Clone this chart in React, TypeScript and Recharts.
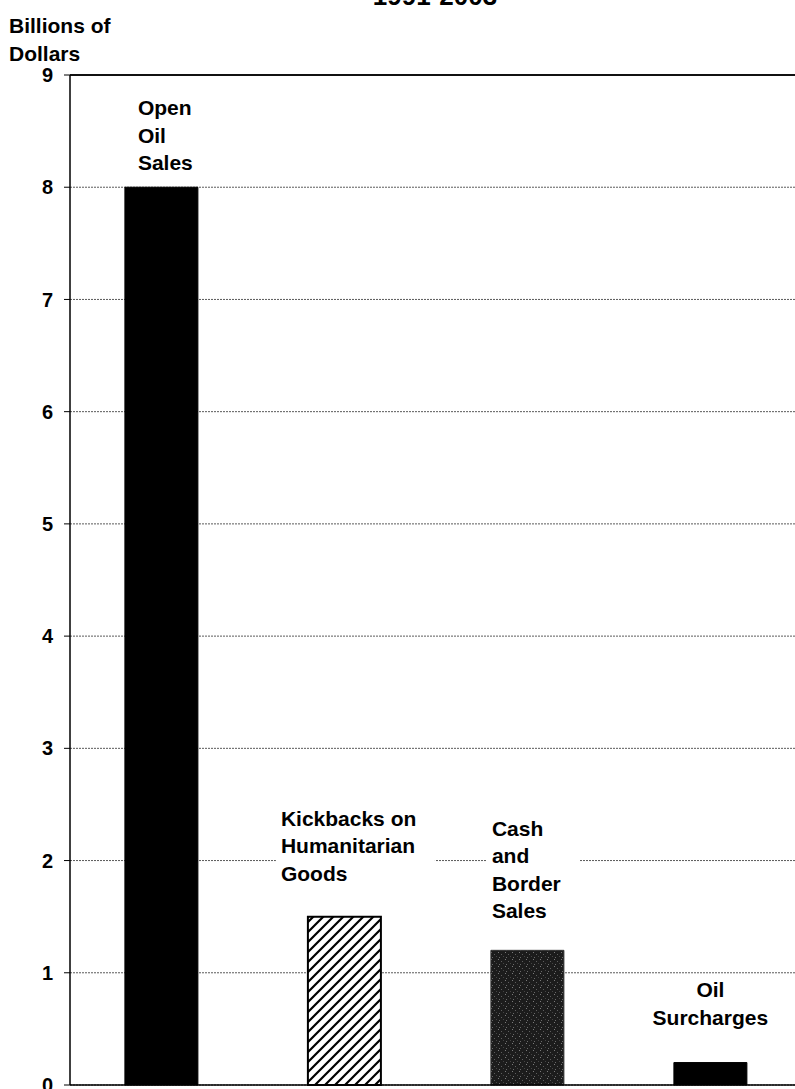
import React from 'react';
import {
  BarChart,
  Bar,
  Cell,
  XAxis,
  YAxis,
  CartesianGrid,
  ReferenceLine,
  LabelList
} from 'recharts';

// categories and values (billions of dollars)
const CATEGORIES = ['Open Oil Sales', 'Kickbacks on Humanitarian Goods', 'Cash and Border Sales', 'Oil Surcharges'];
const VALUES = [8.0, 1.5, 1.2, 0.2];
const LABEL_LINES = [
  ['Open', 'Oil', 'Sales'],
  ['Kickbacks on', 'Humanitarian', 'Goods'],
  ['Cash', 'and', 'Border', 'Sales'],
  ['Oil', 'Surcharges']
];
const Y_TICKS = [0, 1, 2, 3, 4, 5, 6, 7, 8, 9];
const TITLE = '1991-2003';
const Y_LABEL = ['Billions of', 'Dollars'];

// fill per bar
const FILLS = ['#000', 'url(#hatch)', 'url(#stipple)', '#000'];

// label placement relative to each bar (dx from bar left, gap above top)
const LABEL_LAYOUT = [
  { dx: 13, gap: 17, anchor: 'start', boxW: 70 },
  { dx: -27, gap: 36, anchor: 'start', boxW: 154 },
  { dx: 1, gap: 32, anchor: 'start', boxW: 88 },
  { dx: 0, gap: 38, anchor: 'middle', boxW: 0 }
];

const FONT = '"Liberation Sans", Arial, Helvetica, sans-serif';
const LINE_H = 27.5;

const data = CATEGORIES.map((name, i) => ({ name, value: VALUES[i] }));

const BarLabel = (props: any) => {
  const vb = props.viewBox || props;
  const idx = CATEGORIES.indexOf(props.value);
  if (idx < 0) return null;
  const lines = LABEL_LINES[idx];
  const lay = LABEL_LAYOUT[idx];
  const top = vb.y;
  const lastBase = top - lay.gap;
  const firstBase = lastBase - (lines.length - 1) * LINE_H;
  const tx = lay.anchor === 'middle' ? vb.x + vb.width / 2 : vb.x + lay.dx;
  return (
    <g>
      {lay.boxW > 0 && (
        <rect
          x={tx - 5}
          y={firstBase - 22}
          width={lay.boxW + 5}
          height={lastBase - firstBase + 30}
          fill="#fff"
        />
      )}
      {lines.map((t, i) => (
        <text
          key={i}
          x={tx}
          y={firstBase + i * LINE_H}
          textAnchor={lay.anchor}
          fontFamily={FONT}
          fontWeight="bold"
          fontSize={21}
          fill="#000"
        >
          {t}
        </text>
      ))}
    </g>
  );
};

export default function App() {
  return (
    <div
      style={{
        position: 'absolute',
        left: 0,
        top: 0,
        width: 795,
        height: 1089,
        overflow: 'hidden',
        background: '#fff',
        fontFamily: FONT
      }}
    >
      <BarChart
        width={810}
        height={1089}
        data={data}
        margin={{ top: 75, right: 8, bottom: 0, left: 0 }}
        barCategoryGap="30%"
      >
        <defs>
          <pattern id="hatch" patternUnits="userSpaceOnUse" width="10" height="10">
            <rect width="10" height="10" fill="#fff" />
            <path d="M-2,2 l4,-4 M0,10 l10,-10 M8,12 l4,-4" stroke="#000" strokeWidth="2.2" />
          </pattern>
          <pattern id="stipple" patternUnits="userSpaceOnUse" width="7" height="7">
            <rect width="7" height="7" fill="#1c1c1c" />
            <rect x="1" y="0" width="1" height="1" fill="#7a7a7a" />
            <rect x="4" y="2" width="1" height="1" fill="#5e5e5e" />
            <rect x="2" y="5" width="1" height="1" fill="#6a6a6a" />
            <rect x="6" y="4" width="1" height="1" fill="#444" />
          </pattern>
        </defs>
        <CartesianGrid vertical={false} stroke="#5a5a5a" strokeDasharray="2 1" />
        <XAxis
          dataKey="name"
          tick={false}
          tickLine={false}
          height={4}
          axisLine={{ stroke: '#000', strokeWidth: 1.5 }}
        />
        <YAxis
          domain={[0, 9]}
          ticks={Y_TICKS}
          interval={0}
          width={70}
          tickSize={6}
          tickMargin={11}
          axisLine={{ stroke: '#000', strokeWidth: 1.5 }}
          tickLine={{ stroke: '#000' }}
          tick={{ fill: '#000', fontSize: 20, fontWeight: 'bold', fontFamily: FONT }}
        />
        <ReferenceLine y={9} stroke="#111" strokeWidth={2} />
        <Bar dataKey="value" isAnimationActive={false}>
          {data.map((d, i) => (
            <Cell
              key={d.name}
              fill={FILLS[i]}
              stroke={i === 2 ? '#333' : '#000'}
              strokeWidth={i === 1 ? 2 : 1}
            />
          ))}
          <LabelList dataKey="name" content={BarLabel} />
        </Bar>
      </BarChart>

      {/* title (cut at top of page) and y-axis caption */}
      <svg width={795} height={70} style={{ position: 'absolute', left: 0, top: 0 }}>
        <text
          x={435}
          y={5}
          textAnchor="middle"
          fontFamily={FONT}
          fontWeight="bold"
          fontSize={26}
          fill="#000"
        >
          {TITLE}
        </text>
        {Y_LABEL.map((t, i) => (
          <text
            key={t}
            x={9}
            y={33 + i * 28}
            fontFamily={FONT}
            fontWeight="bold"
            fontSize={21}
            fill="#000"
          >
            {t}
          </text>
        ))}
      </svg>
    </div>
  );
}
